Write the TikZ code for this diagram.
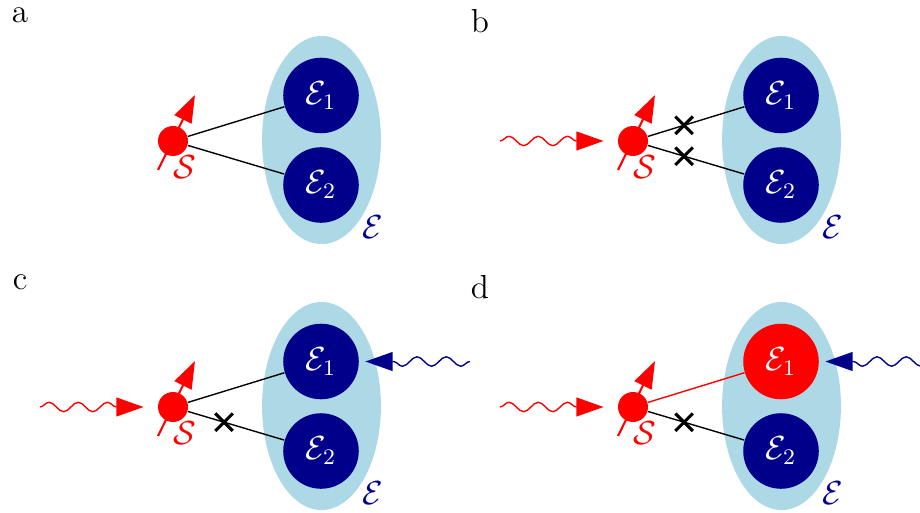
\documentclass[tikz,border=0pt]{standalone}
\usepackage{amsmath,amssymb}
\usetikzlibrary{arrows.meta,positioning,shapes.geometric,shapes.misc,decorations.pathmorphing,calc}
\definecolor{envblue}{HTML}{00008B}
\definecolor{envlight}{HTML}{ADD8E6}

\begin{document}
\begin{tikzpicture}[
  x=0.36pt, y=-0.36pt,
  panel/.style={font=\large, anchor=base},
  env/.style={ellipse, fill=envlight, minimum width=42.8pt, minimum height=74.9pt, inner sep=0pt},
  spin/.style={circle, fill=red, minimum size=10.8pt, inner sep=0pt},
  sub/.style={circle, fill=envblue, text=white, minimum size=27.2pt, inner sep=0pt, font=\large},
  link/.style={line width=0.5pt},
  cut/.style={cross out, draw, line width=1.1pt, minimum size=5.2pt, inner sep=0pt},
  tip/.style={-{Triangle[length=9.8pt, width=6.8pt]}},
  wave/.style={decorate, line width=0.5pt, decoration={snake, amplitude=1.7pt, segment length=10.5pt, post length=#1}}
]
\useasboundingbox (0,0) rectangle (920,512);

% the four panels
\foreach \p/\dx/\dy/\col/\lc/\ly in {a/0/0/envblue/black/23, b/460/0/envblue/black/33, c/0/266/envblue/black/24, d/460/266/red/red/32} {
  \begin{scope}[shift={(\dx,\dy)}]
    \node[panel] (lab\p) at (20,\ly) {\p};
    \node[env] (env\p) at (321.5,140) {};
    \node[spin] (S\p) at (173,141) {};
    \node[sub, fill=\col] (E1\p) at (321,95.5) {$\mathcal{E}_1$};
    \node[sub] (E2\p) at (321,185) {$\mathcal{E}_2$};
    \node[text=envblue, font=\large] (envlab\p) at (373,227) {$\mathcal{E}$};
    \node[text=red, font=\large] (slab\p) at (185,167) {$\mathcal{S}$};
    \draw[link, draw=\lc] (S\p) -- (E1\p);
    \draw[link] (S\p) -- (E2\p);
    \draw[red, line width=0.75pt, tip] ([shift={(-15,29)}]S\p.center) -- ([shift={(22,-46)}]S\p.center);
  \end{scope}
}

% incoming drive on S
\coordinate[left=47.9pt of Sb.center] (inb);
\coordinate[left=47.9pt of Sc.center] (inc);
\coordinate[left=47.9pt of Sd.center] (ind);
\draw[red, wave=11pt, tip, shorten >=5pt] (inb) -- (Sb);
\draw[red, wave=11pt, tip, shorten >=5pt] (inc) -- (Sc);
\draw[red, wave=11pt, tip, shorten >=5pt] (ind) -- (Sd);

% probe on E1
\coordinate[right=53.6pt of E1c.center] (prc);
\coordinate[right=53.6pt of E1d.center] (prd);
\draw[envblue, wave=10.3pt, tip, shorten >=2.2pt] (prc) -- (E1c);
\draw[envblue, wave=10.3pt, tip, shorten >=2.2pt] (prd) -- (E1d);

% cut couplings
\node[cut] (xb1) at ($(Sb)!0.345!(E1b)$) {};
\node[cut] (xb2) at ($(Sb)!0.345!(E2b)$) {};
\node[cut] (xc2) at ($(Sc)!0.345!(E2c)$) {};
\node[cut] (xd2) at ($(Sd)!0.345!(E2d)$) {};
\end{tikzpicture}
\end{document}
